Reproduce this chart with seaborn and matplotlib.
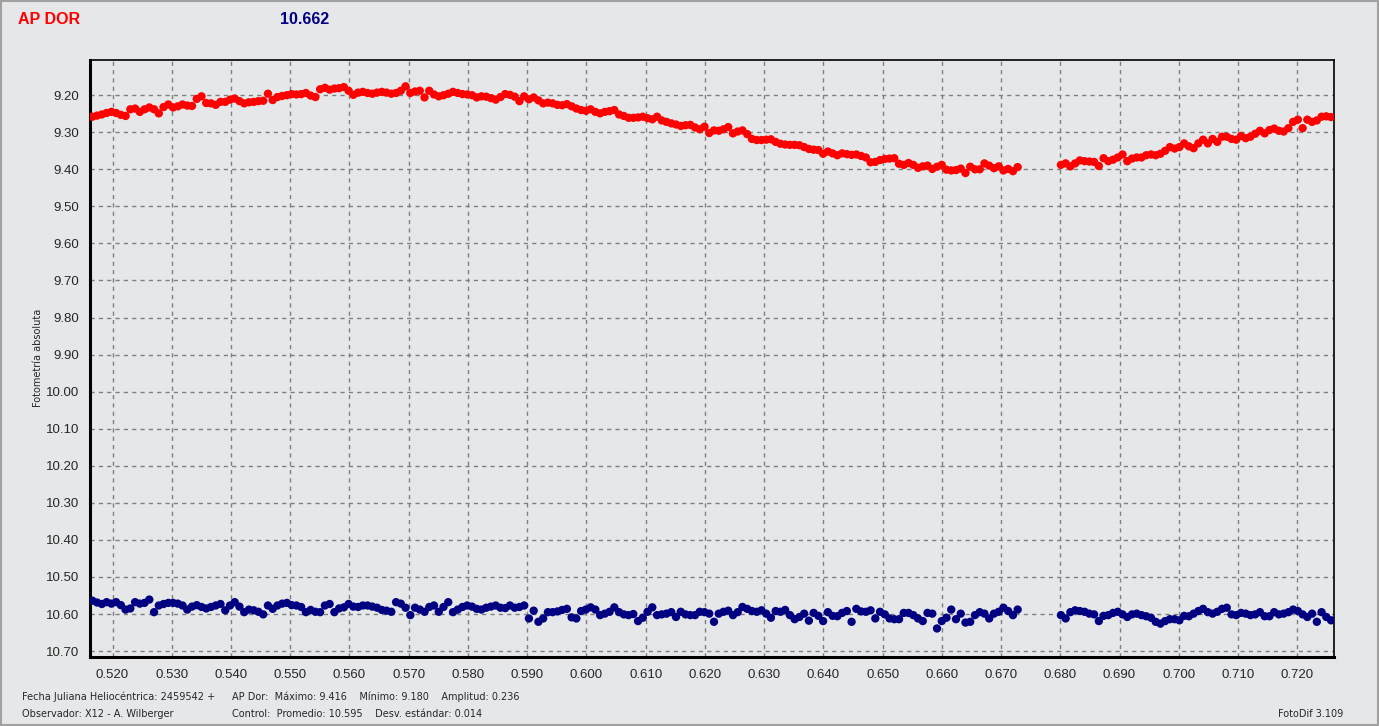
import numpy as np
import pandas as pd
import matplotlib
matplotlib.use("Agg")
import matplotlib.pyplot as plt
import seaborn as sns
from matplotlib.ticker import MultipleLocator, FormatStrFormatter
from matplotlib.patches import Rectangle

# time range of each observing segment (HJD - 2459542)
seg1_t = (0.5166, 0.6728)
seg2_t = (0.6801, 0.7257)

# AP Dor magnitudes, segment 1
var_seg1 = [
    9.258, 9.255, 9.252, 9.248, 9.245, 9.248, 9.253, 9.256, 9.238, 9.236,
    9.245, 9.238, 9.233, 9.238, 9.249, 9.232, 9.225, 9.233, 9.230, 9.225,
    9.228, 9.229, 9.210, 9.203, 9.221, 9.222, 9.226, 9.218, 9.218, 9.212,
    9.209, 9.216, 9.222, 9.219, 9.218, 9.216, 9.215, 9.196, 9.213, 9.205,
    9.202, 9.200, 9.197, 9.198, 9.197, 9.194, 9.201, 9.205, 9.184, 9.180,
    9.185, 9.182, 9.181, 9.178, 9.188, 9.199, 9.193, 9.191, 9.194, 9.196,
    9.193, 9.191, 9.193, 9.196, 9.194, 9.188, 9.176, 9.194, 9.190, 9.188,
    9.206, 9.188, 9.198, 9.203, 9.200, 9.196, 9.191, 9.194, 9.197, 9.198,
    9.200, 9.206, 9.203, 9.204, 9.208, 9.212, 9.205, 9.197, 9.199, 9.204,
    9.216, 9.203, 9.211, 9.206, 9.214, 9.222, 9.220, 9.222, 9.226, 9.227,
    9.224, 9.230, 9.236, 9.240, 9.242, 9.238, 9.245, 9.249, 9.245, 9.243,
    9.240, 9.252, 9.256, 9.261, 9.261, 9.260, 9.258, 9.262, 9.265, 9.258,
    9.268, 9.272, 9.276, 9.279, 9.283, 9.281, 9.280, 9.287, 9.292, 9.285,
    9.302, 9.295, 9.296, 9.292, 9.286, 9.303, 9.298, 9.295, 9.305, 9.318,
    9.321, 9.321, 9.320, 9.319, 9.326, 9.331, 9.333, 9.334, 9.334, 9.335,
    9.340, 9.345, 9.347, 9.348, 9.358, 9.352, 9.357, 9.362, 9.357, 9.359,
    9.361, 9.360, 9.364, 9.368, 9.381, 9.380, 9.375, 9.372, 9.371, 9.370,
    9.385, 9.388, 9.383, 9.388, 9.396, 9.392, 9.390, 9.399, 9.393, 9.388,
    9.401, 9.403, 9.402, 9.398, 9.410, 9.393, 9.400, 9.400, 9.384, 9.390,
    9.397, 9.392, 9.403, 9.399, 9.405, 9.394,
]

# AP Dor magnitudes, segment 2
var_seg2 = [
    9.388, 9.384, 9.392, 9.384, 9.376, 9.378, 9.379, 9.380, 9.391, 9.370,
    9.378, 9.374, 9.368, 9.360, 9.378, 9.371, 9.368, 9.368, 9.362, 9.360,
    9.362, 9.358, 9.350, 9.340, 9.344, 9.340, 9.330, 9.338, 9.343, 9.330,
    9.320, 9.330, 9.318, 9.326, 9.312, 9.312, 9.318, 9.320, 9.310, 9.316,
    9.312, 9.304, 9.296, 9.303, 9.294, 9.290, 9.296, 9.298, 9.289, 9.272,
    9.266, 9.289, 9.266, 9.272, 9.268, 9.258, 9.257, 9.259,
]

# control star magnitudes, segment 1
ctl_seg1 = [
    10.564, 10.569, 10.573, 10.568, 10.572, 10.568, 10.576, 10.588, 10.585, 10.568,
    10.572, 10.570, 10.561, 10.595, 10.577, 10.573, 10.570, 10.570, 10.572, 10.577,
    10.588, 10.580, 10.576, 10.581, 10.585, 10.581, 10.577, 10.573, 10.590, 10.577,
    10.568, 10.580, 10.595, 10.588, 10.590, 10.594, 10.601, 10.577, 10.586, 10.577,
    10.572, 10.570, 10.576, 10.577, 10.581, 10.595, 10.589, 10.594, 10.595, 10.577,
    10.573, 10.595, 10.585, 10.582, 10.573, 10.580, 10.581, 10.577, 10.577, 10.580,
    10.583, 10.589, 10.591, 10.594, 10.568, 10.572, 10.583, 10.603, 10.583, 10.588,
    10.594, 10.581, 10.577, 10.594, 10.581, 10.568, 10.595, 10.588, 10.581, 10.577,
    10.580, 10.586, 10.588, 10.583, 10.580, 10.577, 10.583, 10.584, 10.577, 10.583,
    10.581, 10.577, 10.612, 10.591, 10.621, 10.612, 10.595, 10.595, 10.593, 10.589,
    10.586, 10.609, 10.612, 10.592, 10.588, 10.582, 10.588, 10.603, 10.599, 10.594,
    10.582, 10.595, 10.601, 10.603, 10.600, 10.619, 10.610, 10.594, 10.582, 10.603,
    10.601, 10.599, 10.595, 10.608, 10.594, 10.601, 10.603, 10.603, 10.594, 10.595,
    10.599, 10.621, 10.599, 10.594, 10.591, 10.603, 10.595, 10.581, 10.586, 10.592,
    10.594, 10.590, 10.599, 10.610, 10.592, 10.594, 10.589, 10.603, 10.614, 10.608,
    10.599, 10.618, 10.597, 10.605, 10.619, 10.595, 10.605, 10.606, 10.597, 10.592,
    10.621, 10.586, 10.593, 10.594, 10.590, 10.612, 10.594, 10.601, 10.612, 10.614,
    10.614, 10.597, 10.597, 10.603, 10.612, 10.619, 10.597, 10.599, 10.639, 10.619,
    10.610, 10.588, 10.614, 10.599, 10.623, 10.621, 10.603, 10.595, 10.599, 10.612,
    10.599, 10.594, 10.583, 10.592, 10.603, 10.588,
]

# control star magnitudes, segment 2
ctl_seg2 = [
    10.603, 10.612, 10.595, 10.590, 10.592, 10.594, 10.599, 10.601, 10.619, 10.605,
    10.603, 10.597, 10.594, 10.601, 10.608, 10.601, 10.599, 10.603, 10.606, 10.610,
    10.621, 10.626, 10.619, 10.614, 10.614, 10.617, 10.605, 10.606, 10.599, 10.592,
    10.586, 10.595, 10.599, 10.594, 10.586, 10.583, 10.601, 10.603, 10.597, 10.599,
    10.603, 10.601, 10.595, 10.606, 10.606, 10.595, 10.601, 10.599, 10.595, 10.588,
    10.592, 10.601, 10.608, 10.599, 10.621, 10.595, 10.608, 10.617,
]

t1 = np.linspace(seg1_t[0], seg1_t[1], len(var_seg1))
t2 = np.linspace(seg2_t[0], seg2_t[1], len(var_seg2))
df = pd.DataFrame({
    "t": np.concatenate([t1, t2, t1, t2]),
    "mag": var_seg1 + var_seg2 + ctl_seg1 + ctl_seg2,
    "star": ["AP Dor"] * (len(t1) + len(t2)) + ["Control"] * (len(t1) + len(t2)),
})

bg = "#e6e7e9"
sns.set_style("white")
plt.rcParams["font.family"] = ["Liberation Sans", "DejaVu Sans"]

fig = plt.figure(figsize=(13.79, 7.26), dpi=100, facecolor=bg)
ax = fig.add_axes([90 / 1379, 1 - 657 / 726, (1334 - 90) / 1379, (657 - 60) / 726])
ax.set_facecolor(bg)

sns.scatterplot(data=df, x="t", y="mag", hue="star",
                palette={"AP Dor": "#ff0000", "Control": "#000080"},
                s=36, linewidth=0, marker="o", legend=False, ax=ax, zorder=3)

ax.set_xlim(0.5162, 0.7262)
ax.set_ylim(10.716, 9.105)
ax.xaxis.set_major_locator(MultipleLocator(0.01))
ax.xaxis.set_minor_locator(MultipleLocator(0.0025))
ax.yaxis.set_major_locator(MultipleLocator(0.1))
ax.yaxis.set_minor_locator(MultipleLocator(0.025))
ax.xaxis.set_major_formatter(FormatStrFormatter("%.3f"))
ax.yaxis.set_major_formatter(FormatStrFormatter("%.2f"))
ax.tick_params(axis="both", which="major", length=5, width=1, labelsize=9.5, color="black")
ax.tick_params(axis="both", which="minor", length=3, width=1, color="black")
ax.tick_params(axis="x", pad=4)
ax.tick_params(axis="y", pad=3)

ax.grid(True, which="major", color="#7f7f7f", linestyle=(0, (3, 3)), linewidth=1, zorder=0)
ax.set_axisbelow(True)
ax.set_xlabel("")
ax.set_ylabel("")

for side in ["left", "bottom"]:
    ax.spines[side].set_linewidth(2.2)
    ax.spines[side].set_color("black")
for side in ["top", "right"]:
    ax.spines[side].set_linewidth(1.2)
    ax.spines[side].set_color("black")

small = ["DejaVu Sans"]
fig.text(38 / 1379, 1 - 358 / 726, "Fotometría absoluta", rotation=90,
         ha="center", va="center", fontsize=7, family=small)

fig.text(18 / 1379, 1 - 19 / 726, "AP DOR", color="#ff0000", fontsize=11.5,
         fontweight="bold", ha="left", va="center")
fig.text(280 / 1379, 1 - 19 / 726, "10.662", color="#000080", fontsize=11.5,
         fontweight="bold", ha="left", va="center")

fig.text(22 / 1379, 1 - 697 / 726, "Fecha Juliana Heliocéntrica: 2459542 +",
         fontsize=7, ha="left", va="center", family=small)
fig.text(22 / 1379, 1 - 714 / 726, "Observador: X12 - A. Wilberger",
         fontsize=7, ha="left", va="center", family=small)
fig.text(232 / 1379, 1 - 697 / 726,
         "AP Dor:  Máximo: 9.416    Mínimo: 9.180    Amplitud: 0.236",
         fontsize=7, ha="left", va="center", family=small)
fig.text(232 / 1379, 1 - 714 / 726,
         "Control:  Promedio: 10.595    Desv. estándar: 0.014",
         fontsize=7, ha="left", va="center", family=small)
fig.text(1343 / 1379, 1 - 714 / 726, "FotoDif 3.109",
         fontsize=7, ha="right", va="center", family=small)

fig.patches.append(Rectangle((0.0007, 0.001), 0.9986, 0.998, transform=fig.transFigure,
                             fill=False, edgecolor="#a0a0a0", linewidth=1.5))

fig.savefig("out.png", dpi=100, facecolor=bg)
